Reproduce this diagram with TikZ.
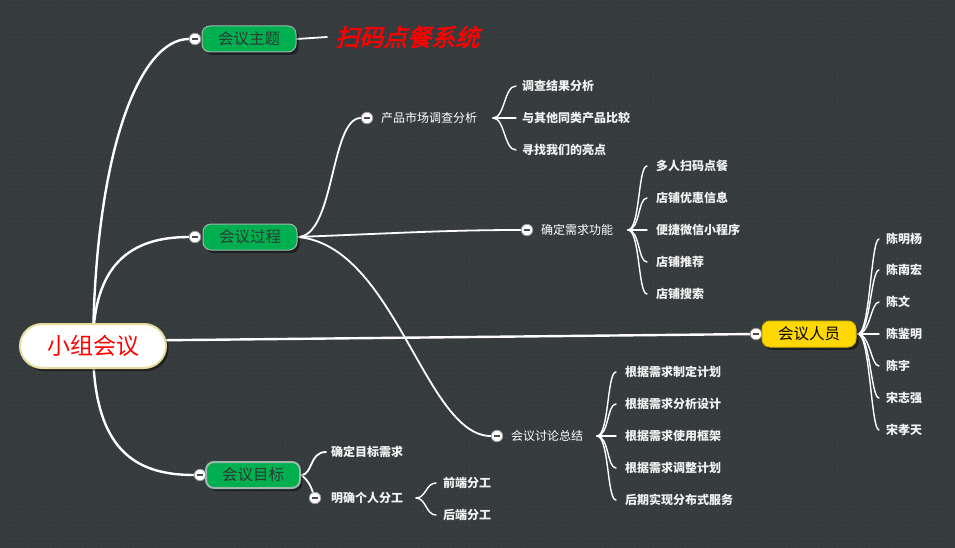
\documentclass[tikz,border=0pt]{standalone}
\usepackage{fontspec}
\newfontfamily\cjk{Noto Sans CJK SC}
\newfontfamily\cjktitle{Noto Sans CJK SC}[FakeSlant=0.25,FakeBold=2.5]
\usetikzlibrary{shadows,calc,patterns.meta}

\definecolor{bgc}{HTML}{363B3E}
\definecolor{dotc}{HTML}{42474B}
\definecolor{greenfill}{HTML}{00B050}
\definecolor{greenedge}{HTML}{9DB8AA}
\definecolor{rootedge}{HTML}{E6DC9E}
\definecolor{yellowfill}{HTML}{FFD800}
\definecolor{topictext}{HTML}{2F3A33}
\definecolor{leaftext}{HTML}{F2F2F2}
\definecolor{foldedge}{HTML}{9A9A9A}
\definecolor{foldbar}{HTML}{4A4A4A}

\pgfdeclarelayer{back}
\pgfdeclarelayer{links}
\pgfsetlayers{back,links,main}

\tikzset{
  boxshadow/.style={drop shadow={shadow xshift=2.5pt,shadow yshift=-3pt,opacity=0.45,fill=black}},
  rootbox/.style={rounded corners=22pt, fill=white, draw=rootedge, line width=2pt,
    minimum width=146pt, minimum height=44pt, text=red, boxshadow,
    font=\cjk\fontsize{23}{23}\selectfont, text height=20pt, text depth=3pt},
  topic/.style={rounded corners=8pt, line width=1pt, minimum width=94pt, minimum height=26pt,
    text=topictext, boxshadow, font=\cjk\fontsize{15.5}{15.5}\selectfont,
    text height=13.5pt, text depth=2pt},
  greentopic/.style={topic, fill=greenfill, draw=greenedge},
  yellowtopic/.style={topic, fill=yellowfill, draw=yellowfill!85!black, text=black},
  fold/.style={circle, minimum size=11.5pt, inner sep=0pt, fill=white, draw=foldedge, line width=0.8pt,
    path picture={\draw[foldbar, line width=1.4pt]
      ([xshift=-3.3pt]path picture bounding box.center) -- ([xshift=3.3pt]path picture bounding box.center);}},
  subtopic/.style={anchor=west, inner sep=2pt, text=white, font=\cjk\fontsize{12}{12}\selectfont,
    text height=10.5pt, text depth=1.5pt},
  leaf/.style={anchor=west, inner sep=2pt, text=leaftext, font=\cjk\bfseries\fontsize{12}{12}\selectfont,
    text height=10.5pt, text depth=1.5pt},
  trunk/.style={draw=white, line width=2.4pt, line cap=round},
  branch/.style={draw=white, line width=1.8pt, line cap=round},
  twig/.style={draw=white, line width=1.4pt, line cap=round},
}

\begin{document}
\begin{tikzpicture}[x=1pt, y=-1pt]
  \useasboundingbox (0,0) rectangle (955,548);
  \begin{pgfonlayer}{back}
    \fill[bgc] (0,0) rectangle (955,548);
    \fill[pattern={Dots[distance=4.6pt, radius=0.6pt]}, pattern color=dotc] (0,0) rectangle (955,548);
  \end{pgfonlayer}

  % central topic
  \node[rootbox] (root) at (93,346) {小组会议};

  % main topics and their fold buttons
  \node[greentopic] (tTheme) at (249,39) {会议主题};
  \node[greentopic] (tProc) at (250,237) {会议过程};
  \node[greentopic, line width=2pt] (tGoal) at (253,475) {会议目标};
  \node[yellowtopic] (tPeople) at (809,334) {会议人员};
  \node[fold] (fTheme) at (195,39) {};
  \node[fold] (fProc) at (195,237) {};
  \node[fold] (fGoal) at (200,475) {};
  \node[fold] (fPeople) at (756,334) {};

  % theme label
  \node[anchor=west, inner sep=0pt, text=red, font=\cjktitle\fontsize{24}{24}\selectfont] (title) at (335,37) {扫码点餐系统};
  \coordinate (titlein) at (327,37);

  % second level topics
  \node[fold] (fA) at (367,118) {};
  \node[subtopic] (pA) at (379,118) {产品市场调查分析};
  \node[fold] (fB) at (527,230) {};
  \node[subtopic] (pB) at (539,230) {确定需求功能};
  \node[fold] (fC) at (497,436) {};
  \node[subtopic] (pC) at (509,436) {会议讨论总结};
  \node[leaf] (g1) at (329,452) {确定目标需求};
  \node[fold] (fD) at (315,498) {};
  \node[leaf] (pD) at (329,498) {明确个人分工};

  % fork points of the leaf groups
  \coordinate (kA) at (493,118);
  \coordinate (kB) at (628,230);
  \coordinate (kC) at (597,436);
  \coordinate (kD) at (416,498);
  \coordinate (kP) at (858,334);

  % leaves
  \foreach \n/\y/\t in {a1/86/调查结果分析, a2/118/与其他同类产品比较, a3/150/寻找我们的亮点}
    \node[leaf] (\n) at (520,\y) {\t};
  \foreach \n/\y/\t in {b1/166/多人扫码点餐, b2/198/店铺优惠信息, b3/230/便捷微信小程序, b4/262/店铺推荐, b5/294/店铺搜索}
    \node[leaf] (\n) at (654,\y) {\t};
  \foreach \n/\y/\t in {c1/372/根据需求制定计划, c2/404/根据需求分析设计, c3/436/根据需求使用框架, c4/468/根据需求调整计划, c5/500/后期实现分布式服务}
    \node[leaf] (\n) at (623,\y) {\t};
  \foreach \n/\y/\t in {d1/483/前端分工, d2/515/后端分工}
    \node[leaf] (\n) at (441,\y) {\t};
  \foreach \n/\y/\t in {e1/239/陈明杨, e2/270/陈南宏, e3/302/陈文, e4/334/陈鉴明, e5/366/陈宇, e6/398/宋志强, e7/430/宋孝天}
    \node[leaf] (\n) at (884,\y) {\t};

  \begin{pgfonlayer}{links}
    % from the central topic
    \draw[trunk] (root.center) .. controls (95,150) and (140,39) .. (fTheme);
    \draw[trunk] (root.center) .. controls (93,265) and (130,237) .. (fProc);
    \draw[trunk] (root.center) .. controls (93,450) and (135,475) .. (fGoal);
    \draw[trunk] ($(root.center)+(0,-5)$) -- (fPeople);
    \draw[branch] (tTheme.east) -- (titlein);

    % meeting process
    \draw[branch] (tProc.east) .. controls (335,237) and (330,118) .. (fA);
    \draw[branch] (tProc.east) .. controls (400,233) and (450,230) .. (fB);
    \draw[branch] (tProc.east) .. controls (395,245) and (425,436) .. (fC);

    % meeting goal
    \draw[branch] (tGoal.east) .. controls (313,475) and (309,452) .. ([xshift=-3pt]g1.west);
    \draw[branch] (tGoal.east) .. controls (309,480) and (312,490) .. (fD);

    % leaf forks
    \foreach \n in {a1,a2,a3}
      \draw[twig] (kA) .. controls +(12,0) and +(-12,0) .. ([xshift=-4pt]\n.west);
    \foreach \n in {b1,b2,b3,b4,b5}
      \draw[twig] (kB) .. controls +(12,0) and +(-9,0) .. ([xshift=-7pt]\n.west);
    \foreach \n in {c1,c2,c3,c4,c5}
      \draw[twig] (kC) .. controls +(12,0) and +(-9,0) .. ([xshift=-7pt]\n.west);
    \foreach \n in {d1,d2}
      \draw[twig] (kD) .. controls +(10,0) and +(-10,0) .. ([xshift=-5pt]\n.west);
    \foreach \n in {e1,e2,e3,e4,e5,e6,e7}
      \draw[twig] (kP) .. controls +(12,0) and +(-8,0) .. ([xshift=-5pt]\n.west);
  \end{pgfonlayer}
\end{tikzpicture}
\end{document}
